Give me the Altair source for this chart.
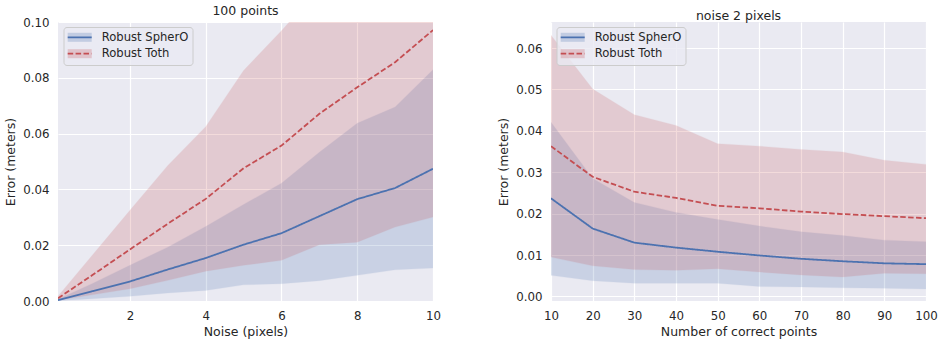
import altair as alt
import pandas as pd

methods = ["Robust SpherO", "Robust Toth"]
colors = ["#4C72B0", "#C44E52"]
dashes = [[1, 0], [5.5, 2.4]]

# Left panel: error vs noise (100 points)
noise = [0.1, 1, 2, 3, 4, 5, 6, 7, 8, 9, 10]
sph_noise_mean = [0.0003, 0.0035, 0.0070, 0.0113, 0.0154, 0.0202, 0.0243, 0.0304, 0.0365, 0.0405, 0.0474]
sph_noise_lo = [0.0001, 0.0008, 0.0017, 0.0029, 0.0038, 0.0058, 0.0062, 0.0073, 0.0092, 0.0112, 0.0118]
sph_noise_hi = [0.0006, 0.0062, 0.0128, 0.0193, 0.0267, 0.0346, 0.0422, 0.0533, 0.0637, 0.0695, 0.0829]
toth_noise_mean = [0.0010, 0.0092, 0.0185, 0.0277, 0.0366, 0.0476, 0.0557, 0.0671, 0.0766, 0.0856, 0.0971]
toth_noise_lo = [0.0003, 0.0022, 0.0044, 0.0074, 0.0107, 0.0128, 0.0146, 0.0202, 0.0211, 0.0265, 0.0301]
toth_noise_hi = [0.0017, 0.0163, 0.0325, 0.0486, 0.0625, 0.0826, 0.0969, 0.1120, 0.1250, 0.1350, 0.1450]

# Right panel: error vs number of correct points (noise 2 pixels)
points = [10, 20, 30, 40, 50, 60, 70, 80, 90, 100]
sph_pts_mean = [0.0237, 0.0164, 0.0130, 0.0118, 0.0108, 0.0099, 0.0091, 0.0085, 0.0080, 0.0078]
sph_pts_lo = [0.0051, 0.0038, 0.0032, 0.0032, 0.0032, 0.0024, 0.0023, 0.0021, 0.0020, 0.0018]
sph_pts_hi = [0.0421, 0.0285, 0.0227, 0.0203, 0.0186, 0.0170, 0.0156, 0.0147, 0.0136, 0.0132]
toth_pts_mean = [0.0363, 0.0289, 0.0253, 0.0238, 0.0219, 0.0213, 0.0205, 0.0199, 0.0194, 0.0189]
toth_pts_lo = [0.0095, 0.0074, 0.0065, 0.0063, 0.0067, 0.0059, 0.0052, 0.0047, 0.0056, 0.0055]
toth_pts_hi = [0.0631, 0.0501, 0.0439, 0.0413, 0.0369, 0.0363, 0.0355, 0.0349, 0.0329, 0.0319]


def frame(xs, series):
    rows = []
    for name, (mean, lo, hi) in series.items():
        for x, m, l, h in zip(xs, mean, lo, hi):
            rows.append({"x": x, "method": name, "mean": m, "lo": l, "hi": h})
    return pd.DataFrame(rows)


df_left = frame(noise, {
    methods[0]: (sph_noise_mean, sph_noise_lo, sph_noise_hi),
    methods[1]: (toth_noise_mean, toth_noise_lo, toth_noise_hi),
})
df_right = frame(points, {
    methods[0]: (sph_pts_mean, sph_pts_lo, sph_pts_hi),
    methods[1]: (toth_pts_mean, toth_pts_lo, toth_pts_hi),
})

FONT = "DejaVu Sans"
TXT = "#262626"

color_scale = alt.Scale(domain=methods, range=colors)
dash_scale = alt.Scale(domain=methods, range=dashes)


def legend_layers():
    layers = [
        alt.Chart(pd.DataFrame({"k": [0]})).mark_rect(
            fill="#EAEAF2", fillOpacity=0.8, stroke="#CCCCCC", strokeWidth=1, cornerRadius=3,
        ).encode(x=alt.value(6), x2=alt.value(135), y=alt.value(5.5), y2=alt.value(43.5))
    ]
    for i, (name, col, dash) in enumerate(zip(methods, colors, dashes)):
        yc = 15.3 + i * 16.4
        d = pd.DataFrame({"name": [name]})
        layers.append(alt.Chart(d).mark_rect(fill=col, opacity=0.25).encode(
            x=alt.value(9.7), x2=alt.value(33.7), y=alt.value(yc - 4.5), y2=alt.value(yc + 4.5)))
        layers.append(alt.Chart(d).mark_rule(color=col, strokeWidth=1.8, strokeDash=dash).encode(
            x=alt.value(9.7), x2=alt.value(33.7), y=alt.value(yc)))
        layers.append(alt.Chart(d).mark_text(
            align="left", baseline="middle", font=FONT, fontSize=11.6, color=TXT, dy=0.5,
        ).encode(x=alt.value(43.7), y=alt.value(yc), text="name:N"))
    return layers


def panel(df, title, xtitle, xdom, xvals, ydom, yvals):
    x = alt.X("x:Q", title=xtitle, scale=alt.Scale(domain=xdom, nice=False, zero=False),
              axis=alt.Axis(values=xvals, format="d", labelFlush=False))
    band = alt.Chart(df).mark_area(opacity=0.2, strokeOpacity=0.25, strokeWidth=1, clip=True).encode(
        x=x,
        y=alt.Y("lo:Q", title="Error (meters)", scale=alt.Scale(domain=ydom, nice=False, zero=False),
                axis=alt.Axis(values=yvals, format=".2f")),
        y2="hi:Q",
        fill=alt.Fill("method:N", scale=color_scale, legend=None),
        stroke=alt.Stroke("method:N", scale=color_scale, legend=None),
    )
    line = alt.Chart(df).mark_line(strokeWidth=1.8, clip=True).encode(
        x=x,
        y=alt.Y("mean:Q"),
        color=alt.Color("method:N", scale=color_scale, legend=None),
        strokeDash=alt.StrokeDash("method:N", scale=dash_scale, legend=None),
    )
    return alt.layer(band, line, *legend_layers()).properties(
        width=375, height=279,
        title=alt.Title(title, font=FONT, fontSize=12.5, fontWeight="normal", color=TXT, offset=0),
    )


left = panel(df_left, "100 points", "Noise (pixels)", [0.1, 10], [2, 4, 6, 8, 10],
             [0, 0.1], [0, 0.02, 0.04, 0.06, 0.08, 0.10])
right = panel(df_right, "noise 2 pixels", "Number of correct points", [10, 100],
              [10, 20, 30, 40, 50, 60, 70, 80, 90, 100],
              [-0.0011, 0.0663], [0, 0.01, 0.02, 0.03, 0.04, 0.05, 0.06])

chart = alt.hconcat(left, right, spacing=56).resolve_scale(
    x="independent", y="independent", color="independent", strokeDash="independent",
    fill="independent", stroke="independent",
).properties(
    padding={"left": 4, "top": 4, "right": 0, "bottom": 0},
).configure_view(
    fill="#EAEAF2", stroke=None,
).configure_axis(
    domain=False, ticks=False, grid=True, gridColor="white", gridWidth=1.2,
    labelFont=FONT, labelFontSize=11.8, labelColor=TXT, labelPadding=9,
    titleFont=FONT, titleFontSize=12.5, titleFontWeight="normal", titleColor=TXT,
    titlePadding=4,
).configure_axisY(
    titlePadding=5,
)

chart.save("out.html", embed_options={"renderer": "svg", "actions": False})
